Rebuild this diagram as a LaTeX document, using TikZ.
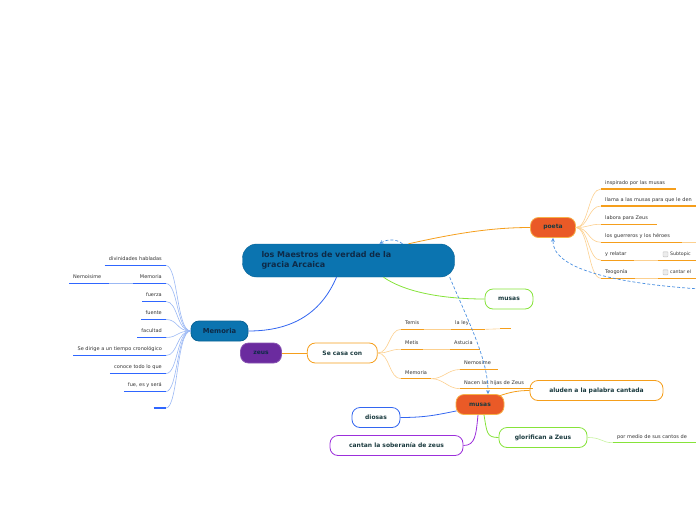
\documentclass[tikz,border=0pt]{standalone}
\usepackage{fontspec}
\setmainfont{DejaVu Sans}
\usetikzlibrary{positioning, calc}

\definecolor{rootblue}{HTML}{0B74B0}
\definecolor{navytext}{HTML}{0E2A47}
\definecolor{nodetext}{HTML}{1B3B3F}
\definecolor{labeltext}{HTML}{333333}
\definecolor{oranged}{HTML}{F59E1B}
\definecolor{orangel}{HTML}{FCD08F}
\definecolor{blued}{HTML}{3366F0}
\definecolor{blueul}{HTML}{2F66FF}
\definecolor{bluel}{HTML}{9BB8F4}
\definecolor{greend}{HTML}{86E33A}
\definecolor{greenl}{HTML}{C7F3A0}
\definecolor{purpled}{HTML}{9C2FDB}
\definecolor{redfill}{HTML}{EA5A27}
\definecolor{zeusfill}{HTML}{6B2B9F}
\definecolor{dashblue}{HTML}{4A8FE0}

\begin{document}
\begin{tikzpicture}[x=1pt, y=-1pt, font=\fontsize{5}{6}\selectfont]
			% 定义节点样式
			\tikzstyle{root} = [rectangle, rounded corners=14pt, fill=rootblue, draw=rootblue!85!black, text=navytext, font=\bfseries\fontsize{8}{10.5}\selectfont, align=left, text width=174pt, inner xsep=19pt, minimum height=33pt]
			\tikzstyle{topic} = [rectangle, rounded corners=8pt, line width=0.8pt, text=nodetext, font=\bfseries\fontsize{6}{7}\selectfont, minimum height=20pt]
			\tikzstyle{lbl} = [inner xsep=4pt, inner ysep=3.5pt, text height=4pt, text depth=1pt, text=labeltext, align=left]
			\tikzstyle{chk} = [draw=gray!55, fill=gray!15, rounded corners=0.6pt, minimum size=5pt, inner sep=0pt]
			\tikzstyle{bul} = [blueul, line width=1.2pt]
			\tikzstyle{oul} = [oranged, line width=1.2pt]
			\tikzstyle{bcon} = [bluel, line width=0.6pt]
			\tikzstyle{ocon} = [orangel, line width=0.6pt]
			\tikzstyle{dlink} = [dashblue, line width=0.7pt, dash pattern=on 3pt off 2pt, ->, >=stealth]
			
			\clip (0,0) rectangle (696,520);
			
			% 绘制节点
			\node [root] (maestros) at (348.5,260.5) {los Maestros de verdad de la\\gracia Arcaica};
			\node [topic, fill=redfill, draw=oranged!80, minimum width=45pt] (poeta) at (553,227.5) {poeta};
			\node [topic, fill=white, draw=greend, minimum width=48pt] (musasv) at (509,299) {musas};
			\node [topic, fill=rootblue, draw=rootblue!85!black, text=navytext, minimum width=57pt, font=\bfseries\fontsize{6.8}{8}\selectfont] (memoria) at (219.5,331) {Memoria};
			\node [topic, fill=zeusfill, draw=zeusfill!80!white, text=navytext, minimum width=41pt] (zeus) at (261,353) {zeus};
			\node [topic, fill=white, draw=oranged, minimum width=70pt, right=25pt of zeus] (secasa) {Se casa con};
			\node [topic, fill=redfill, draw=oranged!80, minimum width=48pt] (musasn) at (480,404.5) {musas};
			\node [topic, fill=white, draw=oranged, minimum width=133pt] (aluden) at (596.5,390.5) {aluden a la palabra cantada};
			\node [topic, fill=white, draw=blued, minimum width=48pt] (diosas) at (376,417.5) {diosas};
			\node [topic, fill=white, draw=greend, minimum width=88pt] (glorifican) at (543,437.5) {glorifican a Zeus};
			\node [topic, fill=white, draw=purpled, minimum width=133pt] (cantan) at (396.5,445.5) {cantan la soberanía de zeus};
			
			% Memoria
			\node [lbl, anchor=south east] (divinidades) at (166,265.5) {divinidades habladas};
			\node [lbl, anchor=south east, text width=25pt, align=right] (memlbl) at (166,283.5) {Memoria};
			\node [lbl, anchor=south west, text width=32pt] (nemoisime) at (69,283.5) {Nemoisime};
			\node [lbl, anchor=south east] (fuerza) at (166,301.5) {fuerza};
			\node [lbl, anchor=south east] (fuente) at (166,319.5) {fuente};
			\node [lbl, anchor=south east] (facultad) at (166,337.5) {facultad};
			\node [lbl, anchor=south east] (sedirige) at (166,355.5) {Se dirige a un tiempo cronológico};
			\node [lbl, anchor=south east] (conoce) at (166,373.5) {conoce todo lo que};
			\node [lbl, anchor=south east] (fue) at (166,391.5) {fue, es y será};
			\node [lbl, anchor=south east, minimum width=12pt] (vacio) at (166,408) {};
			
			% Se casa con
			\node [lbl, anchor=south west] (temis) at (401,329.3) {Temis};
			\node [lbl, anchor=south west, text width=26pt] (laley) at (451,329.3) {la ley};
			\node [lbl, anchor=south west, minimum width=11pt] (leyvacio) at (500,328.8) {};
			\node [lbl, anchor=south west] (metis) at (401,349.3) {Metis};
			\node [lbl, anchor=south west, text width=22pt] (astucia) at (450,349.3) {Astucia};
			\node [lbl, anchor=south west, text width=22pt] (memcasa) at (401,378.7) {Memoria};
			\node [lbl, anchor=south west, text width=30pt] (nemosime) at (460,369.5) {Nemosime};
			\node [lbl, anchor=south west, text width=65pt] (nacen) at (460,388.7) {Nacen las hijas de Zeus};
			
			% poeta
			\node [lbl, anchor=south west, text width=67pt] (inspirado) at (601,189) {inspirado por las musas};
			\node [lbl, anchor=south west, text width=92pt] (llama) at (601,206) {llama a las musas para que le den};
			\node [lbl, anchor=south west, text width=48pt] (labora) at (601,224.3) {labora para Zeus};
			\node [lbl, anchor=south west, text width=73pt] (guerreros) at (601,242.3) {los guerreros y los héroes};
			\node [lbl, anchor=south west, text width=25pt] (relatar) at (601,260.3) {y relatar};
			\node [lbl, anchor=south west, text width=42pt, font=\fontsize{4.7}{6}\selectfont] (subtopic) at (658,260.3) {\hspace{8pt}Subtopic};
			\node [chk] (chka) at ($(subtopic.south west)+(7.5,-6)$) {};
			\node [lbl, anchor=south west, text width=26pt] (teogonia) at (601,278.3) {Teogonía};
			\node [lbl, anchor=south west, text width=42pt, font=\fontsize{4.7}{6}\selectfont] (cantar) at (658,278.3) {\hspace{8pt}cantar el};
			\node [chk] (chkb) at ($(cantar.south west)+(7.5,-6)$) {};
			
			% glorifican
			\node [lbl, anchor=south west, text width=82pt] (cantos) at (613,442.7) {por medio de sus cantos de};
			
			\coordinate (borde) at (700,242.3);
			\coordinate (bordeb) at (700,289);
			
			% 绘制连线
			\draw [oranged, line width=0.8pt] ($(maestros.north)+(60,0)$) .. controls +(45,-10) and +(-40,0) .. (poeta.west);
			\draw [greend, line width=0.8pt] ($(maestros.south)+(35,0)$) .. controls +(20,14) and +(-45,0) .. (musasv.west);
			\draw [blued, line width=0.8pt] ($(maestros.south)+(-12,0)$) .. controls +(-15,35) and +(45,0) .. (memoria.east);
			\draw [oranged, line width=0.8pt] (zeus) -- (secasa);
			\draw [oranged, line width=0.8pt] ($(musasn.north east)+(-6,2)$) .. controls +(12,-4) and +(-12,0) .. (aluden.west);
			\draw [blued, line width=0.8pt] ($(musasn.south west)+(1,-4)$) .. controls +(-20,4) and +(25,0) .. (diosas.east);
			\draw [purpled, line width=0.8pt] ($(musasn.south)+(-2,0)$) .. controls +(-2,20) and +(12,0) .. (cantan.east);
			\draw [greend, line width=0.8pt] ($(musasn.south)+(4,0)$) .. controls +(3,18) and +(-12,0) .. (glorifican.west);
			\draw [greenl, line width=0.6pt] (glorifican.east) .. controls +(15,0) and +(-12,0) .. (cantos.south west);
			\draw [greend, line width=1.2pt] (cantos.south west) -- (cantos.south east);
			
			% Memoria
			\foreach \n in {divinidades, memlbl, fuerza, fuente, facultad, sedirige, conoce, fue, vacio}
			{
				\draw [bcon] (memoria.west) .. controls +(-14,0) and +(12,0) .. (\n.south east);
				\draw [bul] (\n.south west) -- (\n.south east);
			}
			\draw [bcon] (nemoisime.south east) -- (memlbl.south west);
			\draw [bul] (nemoisime.south west) -- (nemoisime.south east);
			
			% Se casa con
			\foreach \n in {temis, metis, memcasa}
			{
				\draw [ocon] (secasa.east) .. controls +(12,0) and +(-12,0) .. (\n.south west);
				\draw [oul] (\n.south west) -- (\n.south east);
			}
			\draw [ocon] (temis.south east) -- (laley.south west);
			\draw [ocon] (laley.south east) -- (leyvacio.south west);
			\draw [ocon] (metis.south east) -- (astucia.south west);
			\draw [ocon] (memcasa.south east) .. controls +(12,0) and +(-12,0) .. (nemosime.south west);
			\draw [ocon] (memcasa.south east) .. controls +(12,0) and +(-12,0) .. (nacen.south west);
			\foreach \n in {laley, leyvacio, astucia, nemosime, nacen}
				\draw [oul] (\n.south west) -- (\n.south east);
			
			% poeta
			\foreach \n in {inspirado, llama, labora, guerreros, relatar, teogonia}
			{
				\draw [ocon] (poeta.east) .. controls +(13,0) and +(-13,0) .. (\n.south west);
				\draw [oul] (\n.south west) -- (\n.south east);
			}
			\draw [ocon] (guerreros.south east) -- (borde);
			\draw [ocon] (relatar.south east) -- (subtopic.south west);
			\draw [ocon] (teogonia.south east) -- (cantar.south west);
			\draw [oul] (subtopic.south west) -- (subtopic.south east);
			\draw [oul] (cantar.south west) -- (cantar.south east);
			
			% 关系虚线
			\draw [dlink] ($(maestros.south east)+(-5,0)$) .. controls (470,325) and (488,360) .. ($(musasn.north)+(8,0)$);
			\draw [dlink] ($(maestros.north)+(54,0)$) .. controls +(-6,-5) and +(8,-5) .. ($(maestros.north)+(31,0)$);
			\draw [dlink] (bordeb) .. controls (610,283) and (552,268) .. (poeta.south);
		\end{tikzpicture}
\end{document}
